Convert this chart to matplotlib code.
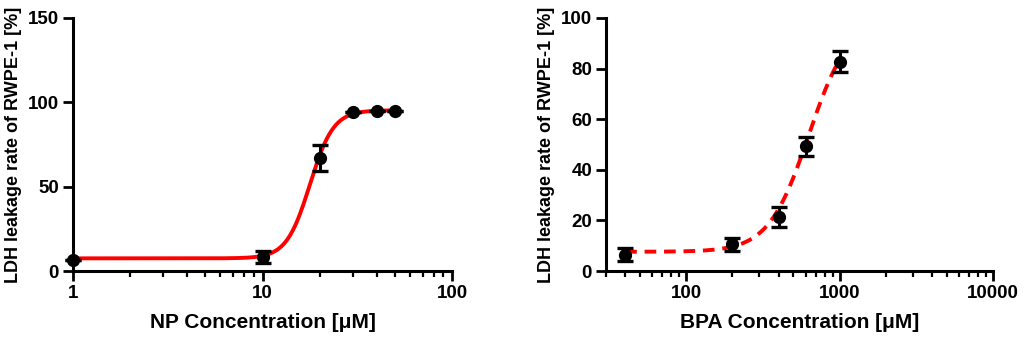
import numpy as np
import matplotlib
matplotlib.use("Agg")
import matplotlib.pyplot as plt
from matplotlib.ticker import LogLocator, FixedLocator, NullFormatter

plt.rcParams['font.family'] = ['Liberation Sans', 'DejaVu Sans']
plt.rcParams['font.weight'] = 'bold'

# NP panel
np_conc = [1, 10, 20, 30, 40, 50]
np_ldh = [6.5, 8.3, 67.0, 94.0, 95.0, 95.0]
np_err = [0.0, 3.7, 7.5, 0.0, 0.0, 0.0]
np_fit = dict(bottom=7.5, top=95.3, ec50=17.8, hill=7.0)

# BPA panel
bpa_conc = [40, 200, 400, 600, 1000]
bpa_ldh = [6.5, 10.5, 21.4, 49.3, 82.8]
bpa_err = [2.7, 2.5, 4.0, 3.7, 4.3]
bpa_fit = dict(bottom=7.6, top=100.0, ec50=630.0, hill=3.3)


def logistic(x, p):
    return p['bottom'] + (p['top'] - p['bottom']) / (1 + (p['ec50'] / x) ** p['hill'])


def style_axis(ax):
    for side in ['top', 'right']:
        ax.spines[side].set_visible(False)
    for side in ['left', 'bottom']:
        ax.spines[side].set_linewidth(2.2)
    ax.tick_params(which='major', direction='out', length=7, width=2, labelsize=13.5, pad=3)
    ax.tick_params(which='minor', direction='out', length=4, width=1.6)
    for lab in ax.get_xticklabels() + ax.get_yticklabels():
        lab.set_fontweight('bold')


fig = plt.figure(figsize=(10.24, 3.38), dpi=100)
ax1 = fig.add_axes([73 / 1024, 1 - 271 / 338, 379 / 1024, 253 / 338])
ax2 = fig.add_axes([606 / 1024, 1 - 271 / 338, 387 / 1024, 253 / 338])

# left
xs = np.logspace(0, np.log10(50), 300)
ax1.plot(xs, logistic(xs, np_fit), color='#ff0000', lw=2.8, zorder=2)
ax1.errorbar(np_conc, np_ldh, yerr=np_err, fmt='o', color='black', ms=8.5,
             elinewidth=2.2, capsize=6, capthick=2.4, zorder=3, clip_on=False)
ax1.set_xscale('log')
ax1.set_xlim(1, 100)
ax1.set_ylim(0, 150)
ax1.set_yticks([0, 50, 100, 150])
ax1.xaxis.set_major_locator(FixedLocator([1, 10, 100]))
ax1.xaxis.set_major_formatter(plt.FuncFormatter(lambda v, p: '%d' % v))
ax1.xaxis.set_minor_locator(LogLocator(base=10, subs=np.arange(2, 10)))
ax1.xaxis.set_minor_formatter(NullFormatter())
ax1.set_xlabel('NP Concentration [μM]', fontsize=15, fontweight='bold', labelpad=8)
ax1.set_ylabel('LDH leakage rate of RWPE-1 [%]', fontsize=13, fontweight='bold', labelpad=4)
style_axis(ax1)

# right
xs2 = np.logspace(np.log10(40), 3, 300)
ax2.plot(xs2, logistic(xs2, bpa_fit), color='#ff0000', lw=2.8, ls=(0, (3, 2)), zorder=2)
ax2.errorbar(bpa_conc, bpa_ldh, yerr=bpa_err, fmt='o', color='black', ms=8.5,
             elinewidth=2.2, capsize=6, capthick=2.4, zorder=3)
ax2.set_xscale('log')
ax2.set_xlim(30, 10000)
ax2.set_ylim(0, 100)
ax2.set_yticks([0, 20, 40, 60, 80, 100])
ax2.xaxis.set_major_locator(FixedLocator([100, 1000, 10000]))
ax2.xaxis.set_major_formatter(plt.FuncFormatter(lambda v, p: '%d' % v))
ax2.xaxis.set_minor_locator(LogLocator(base=10, subs=np.arange(2, 10)))
ax2.xaxis.set_minor_formatter(NullFormatter())
ax2.set_xlabel('BPA Concentration [μM]', fontsize=15, fontweight='bold', labelpad=8)
ax2.set_ylabel('LDH leakage rate of RWPE-1 [%]', fontsize=13, fontweight='bold', labelpad=4)
style_axis(ax2)

fig.savefig('out.png', dpi=100)
